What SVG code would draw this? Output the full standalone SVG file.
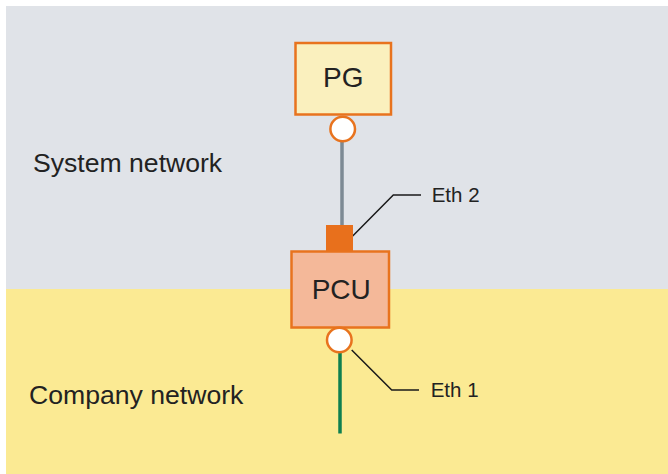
<svg xmlns="http://www.w3.org/2000/svg" width="668" height="474" viewBox="0 0 668 474">
<style>
.zone-label{font-family:"Liberation Sans",Arial,sans-serif;font-size:26.6px;fill:#222;}
.node-label{font-family:"Liberation Sans",Arial,sans-serif;font-size:28px;fill:#222;text-anchor:middle;}
.port-label{font-family:"Liberation Sans",Arial,sans-serif;font-size:20.5px;fill:#222;}
.box{stroke:#E8731E;stroke-width:2.5;}
.port{fill:#fff;stroke:#E8731E;stroke-width:2.5;}
.leader{fill:none;stroke:#1a1a1a;stroke-width:1.5;}
</style>
<rect id="system-zone" x="6" y="6" width="662" height="283" fill="#E0E3E8"/>
<rect id="company-zone" x="6" y="289" width="662" height="185" fill="#FBEA93"/>
<text class="zone-label" x="33" y="172">System network</text>
<text class="zone-label" x="29" y="404">Company network</text>
<g id="connectors">
<line x1="342" y1="142" x2="342" y2="226" stroke="#7D8A94" stroke-width="3.5"/>
<line x1="340" y1="353" x2="340" y2="433.5" stroke="#0E7F4F" stroke-width="3.5"/>
<polyline class="leader" points="352.7,236 393.3,195 421,195"/>
<polyline class="leader" points="351.7,350 391.7,390 419,390"/>
</g>
<g id="pg">
<rect class="box" x="295.5" y="43" width="95.5" height="71.5" fill="#FAF0BE"/>
<text class="node-label" x="343.3" y="86.7">PG</text>
<circle class="port" cx="342.7" cy="129" r="12.3"/>
</g>
<g id="pcu">
<rect x="326" y="225" width="27" height="27" fill="#E8701C"/>
<rect class="box" x="291.5" y="251.5" width="97.5" height="76" fill="#F4B899"/>
<text class="node-label" x="341.2" y="299.3">PCU</text>
<circle class="port" cx="339.3" cy="340" r="12.3"/>
</g>
<text class="port-label" x="431.7" y="201.7">Eth 2</text>
<text class="port-label" x="430.7" y="396.7">Eth 1</text>
</svg>
